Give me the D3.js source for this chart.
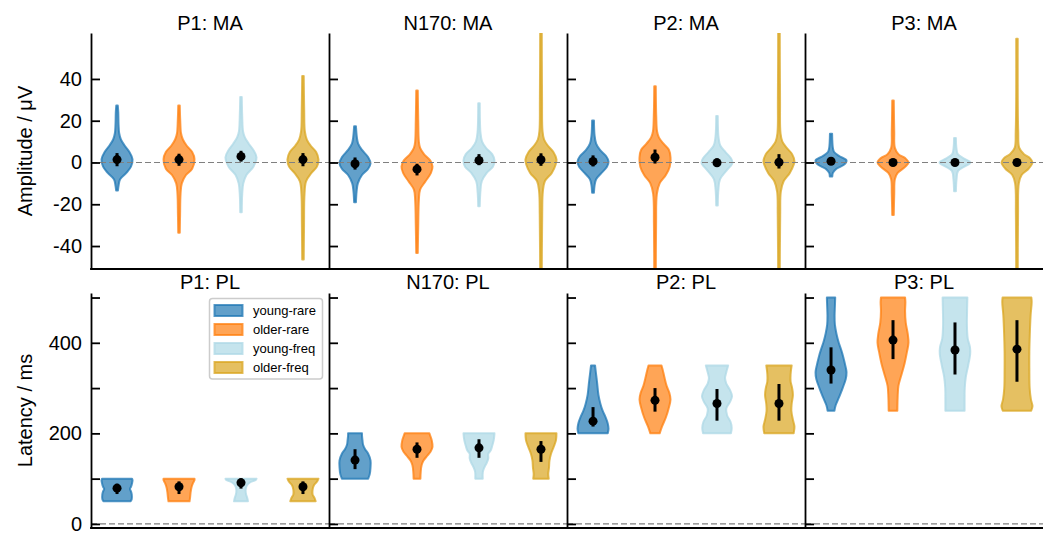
<!DOCTYPE html>
<html>
<head>
<meta charset="utf-8">
<script src="https://cdn.jsdelivr.net/npm/d3@7/dist/d3.min.js"></script>
<style>
  body { margin: 0; background: #fff; }
  svg { display: block; font-family: "Liberation Sans", Arial, Helvetica, sans-serif; }
</style>
</head>
<body>
<script>
// ---------------- DATA ----------------
const groups = ["young-rare", "older-rare", "young-freq", "older-freq"];
const maTitles = ["P1: MA", "N170: MA", "P2: MA", "P3: MA"];
const plTitles = ["P1: PL", "N170: PL", "P2: PL", "P3: PL"];
const maTicks = [-40, -20, 0, 20, 40];
const plTicks = [0, 100, 200, 300, 400, 500];
const plTickLabels = [0, 200, 400];

// Mean amplitude (µV): means and error-bar ranges per component x group
const maMeans = [
  [1.4, 1.4, 2.9, 1.4],
  [-0.6, -3.2, 1.0, 1.3],
  [0.5, 2.5, -0.1, 0.1],
  [0.6, 0.0, 0.0, 0.0]
];
const maErr = [
  [[-1.8, 4.5], [-1.6, 4.2], [0.4, 5.6], [-1.8, 4.5]],
  [[-3.4, 2.4], [-6.2, -0.6], [-1.3, 4.0], [-1.6, 4.4]],
  [[-1.9, 3.4], [-0.5, 6.2], [-2.0, 2.0], [-2.9, 4.0]],
  [[-0.5, 1.7], [-1.0, 1.0], [-0.8, 0.8], [-1.0, 1.0]]
];
// Violin profiles: [value, relative half-width]
const maProfiles = [
  [
    [[-13.4,0.06],[-11,0.1],[-8,0.2],[-5,0.6],[-2,0.9],[1.5,1],[5,0.8],[8,0.5],[11,0.25],[14,0.14],[18,0.1],[24,0.08],[27.3,0.05]],
    [[-33.6,0.05],[-25,0.07],[-15,0.1],[-10,0.18],[-6,0.45],[-3,0.85],[1.5,1],[5,0.85],[8,0.5],[11,0.25],[14,0.13],[20,0.08],[27.3,0.05]],
    [[-23.8,0.05],[-15,0.08],[-10,0.15],[-6,0.35],[-2,0.8],[2.5,1],[6,0.8],[9,0.5],[12,0.25],[15,0.13],[22,0.08],[31.3,0.05]],
    [[-46.5,0.05],[-30,0.07],[-15,0.1],[-9,0.2],[-5,0.55],[-2,0.9],[1.5,1],[5,0.85],[8,0.5],[11,0.25],[15,0.12],[25,0.08],[41.4,0.05]]
  ],
  [
    [[-19,0.06],[-14,0.1],[-10,0.18],[-6,0.45],[-3,0.85],[-0.5,1],[2.5,0.85],[6,0.45],[9,0.2],[12,0.12],[17.3,0.06]],
    [[-43.3,0.05],[-30,0.08],[-18,0.12],[-13,0.2],[-9,0.55],[-5,0.9],[-2,1],[1,0.85],[4,0.45],[7,0.2],[10,0.12],[20,0.08],[34.5,0.05]],
    [[-21,0.05],[-14,0.09],[-9,0.18],[-5,0.5],[-2,0.9],[1,1],[4,0.85],[7,0.45],[10,0.2],[14,0.1],[28.4,0.05]],
    [[-60,0.05],[-25,0.08],[-14,0.12],[-9,0.25],[-5,0.7],[-1,0.95],[1.5,1],[5,0.8],[8,0.45],[11,0.2],[15,0.1],[30,0.07],[70,0.05]]
  ],
  [
    [[-14.5,0.06],[-11,0.1],[-8,0.2],[-5,0.55],[-2,0.9],[0.5,1],[3,0.85],[6,0.45],[9,0.2],[13,0.1],[20.1,0.06]],
    [[-60,0.05],[-30,0.07],[-15,0.12],[-10,0.3],[-6,0.7],[-2,0.95],[2.5,1],[6,0.9],[9,0.55],[12,0.25],[15,0.13],[22,0.08],[36.5,0.05]],
    [[-20.6,0.05],[-13,0.09],[-8,0.2],[-4,0.6],[-1,0.95],[0,1],[2,0.9],[5,0.55],[8,0.22],[12,0.1],[22.2,0.05]],
    [[-60,0.05],[-25,0.08],[-14,0.12],[-9,0.3],[-5,0.7],[-1,0.95],[0.5,1],[4,0.85],[7,0.5],[10,0.22],[14,0.1],[30,0.07],[70,0.05]]
  ],
  [
    [[-6.7,0.08],[-5,0.12],[-3,0.35],[-1,0.85],[1,1],[3,0.55],[5,0.2],[7,0.12],[13.8,0.07]],
    [[-25.1,0.05],[-15,0.08],[-8,0.12],[-5,0.3],[-2,0.8],[0,1],[2,0.8],[4,0.35],[7,0.12],[15,0.08],[29.7,0.05]],
    [[-13.8,0.06],[-8,0.1],[-4,0.2],[-2,0.6],[0,1],[2,0.55],[4,0.18],[7,0.09],[11.7,0.06]],
    [[-60,0.05],[-25,0.07],[-10,0.12],[-6,0.3],[-3,0.75],[0,1],[2,0.85],[4,0.45],[7,0.15],[15,0.08],[59.3,0.05]]
  ]
];

// Peak latency (ms)
const plMeans = [
  [79, 82, 91, 82],
  [141, 165, 168, 165],
  [227, 273, 266, 266],
  [340, 406, 384, 386]
];
const plErr = [
  [[66, 89], [66, 94], [78, 101], [66, 94]],
  [[121, 165], [146, 180], [146, 187], [137, 183]],
  [[215, 258], [248, 300], [228, 298], [228, 309]],
  [[310, 390], [364, 450], [330, 445], [314, 450]]
];
const plProfiles = [
  [
    [[50,0.88],[55,0.95],[65,0.95],[72,0.9],[77,0.83],[82,0.9],[90,0.97],[97,1],[100,0.97]],
    [[50,0.68],[60,0.72],[70,0.75],[80,0.8],[90,0.9],[97,1],[100,1]],
    [[50,0.45],[58,0.4],[65,0.33],[75,0.3],[85,0.38],[92,0.6],[97,0.95],[100,1]],
    [[50,0.82],[57,0.75],[65,0.62],[75,0.62],[85,0.7],[93,0.9],[100,1]]
  ],
  [
    [[100,0.85],[110,0.95],[125,1],[140,1],[155,0.85],[165,0.65],[175,0.52],[185,0.48],[195,0.45],[200,0.45]],
    [[100,0.22],[115,0.24],[130,0.3],[140,0.42],[150,0.65],[160,0.88],[170,1],[185,0.95],[195,0.85],[200,0.8]],
    [[100,0.24],[115,0.25],[125,0.35],[135,0.5],[145,0.6],[155,0.6],[162,0.75],[172,0.85],[185,0.95],[200,1]],
    [[100,0.5],[110,0.47],[125,0.52],[140,0.55],[155,0.65],[170,0.82],[185,0.97],[200,1]]
  ],
  [
    [[200,0.95],[210,1],[222,0.95],[235,0.82],[250,0.62],[265,0.48],[285,0.35],[310,0.27],[330,0.2],[350,0.13]],
    [[200,0.3],[215,0.45],[235,0.7],[255,0.88],[275,1],[290,0.92],[305,0.75],[325,0.6],[340,0.5],[350,0.42]],
    [[200,0.9],[212,0.95],[225,0.88],[240,0.65],[255,0.6],[270,0.85],[282,0.97],[295,0.85],[310,0.6],[322,0.52],[335,0.6],[350,0.72]],
    [[200,0.95],[215,1],[230,0.9],[250,0.8],[265,0.82],[285,0.9],[300,0.85],[315,0.75],[330,0.75],[350,0.82]]
  ],
  [
    [[250,0.22],[262,0.3],[280,0.52],[300,0.75],[320,0.95],[335,1],[350,0.92],[370,0.78],[385,0.65],[400,0.5],[420,0.35],[440,0.25],[460,0.23],[480,0.25],[500,0.27]],
    [[250,0.28],[280,0.3],[305,0.35],[330,0.55],[355,0.75],[380,0.9],[400,1],[420,0.95],[445,0.82],[470,0.78],[490,0.8],[500,0.78]],
    [[250,0.62],[275,0.62],[300,0.63],[325,0.7],[350,0.85],[375,0.98],[390,0.97],[410,0.82],[440,0.77],[470,0.78],[500,0.8]],
    [[250,0.92],[260,1],[275,0.9],[300,0.82],[340,0.8],[380,0.8],[420,0.83],[460,0.88],[490,0.95],[500,0.93]]
  ]
];

// ---------------- STYLE / LAYOUT ----------------
const colors = ["#1f77b4", "#ff7f0e", "#add8e6", "#daa520"];
const W = 1051, H = 534;
const panelLeft = 91, panelW = 238;
const FONT = 20;

const svg = d3.select("body").append("svg").attr("width", W).attr("height", H);
const defs = svg.append("defs");

const rows = [
  { titles: maTitles, domain: [-51, 62], top: 33, bottom: 269, ticks: maTicks, labelTicks: maTicks,
    ylabel: "Amplitude / μV", means: maMeans, errs: maErr, profiles: maProfiles, titleY: 30 },
  { titles: plTitles, domain: [-9, 510], top: 293, bottom: 528, ticks: plTicks, labelTicks: plTickLabels,
    ylabel: "Latency / ms", means: plMeans, errs: plErr, profiles: plProfiles, titleY: 289 }
];

const hw = 0.25; // half of violin width (x units)

rows.forEach((row, ri) => {
  const y = d3.scaleLinear().domain(row.domain).range([row.bottom, row.top]);
  row.titles.forEach((title, pi) => {
    const x0 = panelLeft + pi * panelW;
    const x = d3.scaleLinear().domain([-0.42, 3.42]).range([x0, x0 + panelW]);
    const clipId = `clip-${ri}-${pi}`;
    defs.append("clipPath").attr("id", clipId).append("rect")
      .attr("x", x0).attr("y", row.top).attr("width", panelW).attr("height", row.bottom - row.top);
    const g = svg.append("g");
    const plot = g.append("g").attr("clip-path", `url(#${clipId})`);

    // violins
    groups.forEach((grp, gi) => {
      const area = d3.area()
        .curve(d3.curveCatmullRom.alpha(0.5))
        .y(d => y(d[0]))
        .x0(d => x(gi - d[1] * hw))
        .x1(d => x(gi + d[1] * hw));
      plot.append("path")
        .attr("d", area(row.profiles[pi][gi]))
        .attr("fill", colors[gi]).attr("fill-opacity", 0.7)
        .attr("stroke", colors[gi]).attr("stroke-opacity", 0.75)
        .attr("stroke-width", 2).attr("stroke-linejoin", "round");
    });

    // zero line
    plot.append("line")
      .attr("x1", x0).attr("x2", x0 + panelW)
      .attr("y1", y(0)).attr("y2", y(0))
      .attr("stroke", "#808080").attr("stroke-width", 1.2)
      .attr("stroke-dasharray", "6,3");

    // means and error bars
    groups.forEach((grp, gi) => {
      const e = row.errs[pi][gi];
      plot.append("line")
        .attr("x1", x(gi)).attr("x2", x(gi))
        .attr("y1", y(e[0])).attr("y2", y(e[1]))
        .attr("stroke", "#000").attr("stroke-width", 3);
      plot.append("circle")
        .attr("cx", x(gi)).attr("cy", y(row.means[pi][gi]))
        .attr("r", 4.5).attr("fill", "#000");
    });

    // left axis with inward ticks
    const axis = d3.axisLeft(y)
      .tickValues(row.ticks)
      .tickSizeInner(-9).tickSizeOuter(0).tickPadding(9)
      .tickFormat(d => row.labelTicks.includes(d) ? String(d) : "");
    const ag = g.append("g").attr("transform", `translate(${x0},0)`).call(axis);
    ag.select(".domain").attr("stroke", "#000").attr("stroke-width", 1.8);
    ag.selectAll(".tick line").attr("stroke", "#000").attr("stroke-width", 1.8);
    ag.selectAll(".tick text")
      .attr("font-size", FONT)
      .attr("font-family", '"Liberation Sans", Arial, sans-serif')
      .attr("fill", "#000")
      .style("display", pi === 0 ? null : "none");

    // bottom spine
    g.append("line")
      .attr("x1", x0 - 0.9).attr("x2", x0 + panelW)
      .attr("y1", row.bottom).attr("y2", row.bottom)
      .attr("stroke", "#000").attr("stroke-width", 1.8);

    // title
    g.append("text")
      .attr("x", x0 + panelW / 2).attr("y", row.titleY)
      .attr("text-anchor", "middle")
      .attr("font-size", FONT).attr("fill", "#000")
      .text(title);
  });

  // y label
  svg.append("text")
    .attr("transform", `translate(32,${(row.top + row.bottom) / 2}) rotate(-90)`)
    .attr("text-anchor", "middle")
    .attr("font-size", FONT).attr("fill", "#000")
    .text(row.ylabel);
});

// legend (in P1: PL panel)
const lg = svg.append("g");
lg.append("rect")
  .attr("x", 209.5).attr("y", 298.5).attr("width", 113).attr("height", 80.5)
  .attr("rx", 3).attr("fill", "#fff").attr("fill-opacity", 0.8)
  .attr("stroke", "#cccccc").attr("stroke-width", 1.5);
groups.forEach((grp, gi) => {
  const cy = 310.5 + gi * 19;
  lg.append("rect")
    .attr("x", 214.5).attr("y", cy - 5.5).attr("width", 28).attr("height", 11)
    .attr("fill", colors[gi]).attr("fill-opacity", 0.7)
    .attr("stroke", colors[gi]).attr("stroke-opacity", 0.75).attr("stroke-width", 2);
  lg.append("text")
    .attr("x", 253).attr("y", cy + 4.5)
    .attr("font-size", 13).attr("fill", "#000")
    .text(grp);
});
</script>
</body>
</html>
